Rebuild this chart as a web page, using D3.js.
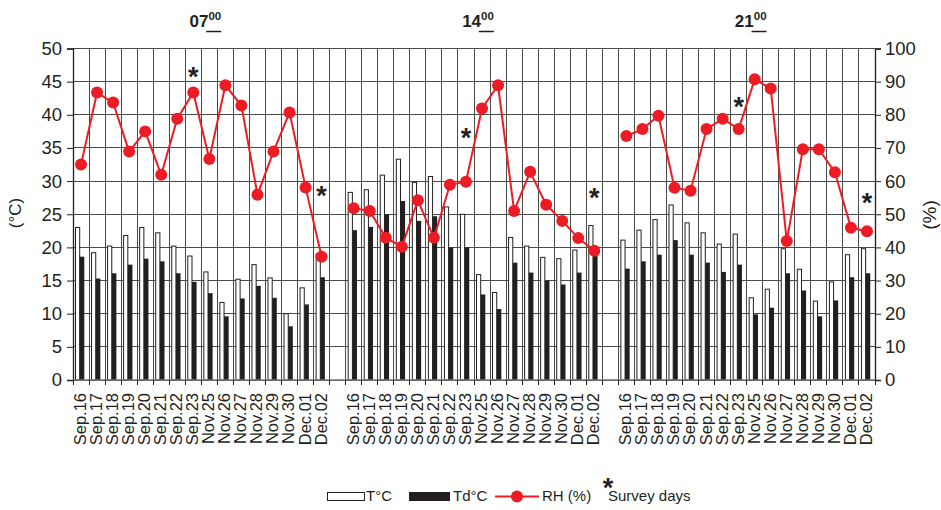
<html>
<head>
  <title>T, Td and RH at 07, 14 and 21 h</title>
  <script src="https://d3js.org/d3.v7.min.js"></script>
  <style>
    body { margin: 0; background: #fff; }
    text { font-family: "Liberation Sans", Arial, sans-serif; fill: #231f20; }
  </style>
</head>
<body>
  <script>
    var days = ["Sep.16", "Sep.17", "Sep.18", "Sep.19", "Sep.20", "Sep.21", "Sep.22", "Sep.23",
                "Nov.25", "Nov.26", "Nov.27", "Nov.28", "Nov.29", "Nov.30", "Dec.01", "Dec.02"];
    var hours = ["07", "14", "21"];

    // air temperature (°C)
    var t07 = [23.0, 19.2, 20.2, 21.8, 23.0, 22.2, 20.2, 18.7, 16.3, 11.7, 15.2, 17.4, 15.4, 10.0, 13.9, 19.0];
    var t14 = [28.3, 28.7, 30.9, 33.3, 29.8, 30.7, 26.1, 25.0, 15.9, 13.2, 21.5, 20.2, 18.5, 18.3, 19.6, 23.3];
    var t21 = [21.1, 22.6, 24.2, 26.4, 23.7, 22.2, 20.5, 22.0, 12.4, 13.7, 19.8, 16.7, 11.9, 14.8, 18.9, 19.8];
    // dew point (°C)
    var td07 = [18.6, 15.3, 16.1, 17.4, 18.3, 17.9, 16.1, 14.8, 13.1, 9.6, 12.3, 14.2, 12.4, 8.1, 11.4, 15.5];
    var td14 = [22.6, 23.1, 25.0, 27.0, 24.0, 24.7, 20.0, 20.0, 12.9, 10.7, 17.7, 16.2, 15.0, 14.4, 16.2, 19.6];
    var td21 = [16.8, 17.9, 18.9, 21.1, 18.9, 17.7, 16.3, 17.4, 9.9, 10.9, 16.1, 13.5, 9.6, 12.0, 15.5, 16.1];
    // relative humidity (%)
    var rh07 = [65.0, 86.7, 83.7, 68.9, 75.0, 61.9, 78.8, 86.7, 66.7, 88.9, 82.8, 55.9, 68.9, 80.7, 58.1, 37.2];
    var rh14 = [51.8, 51.0, 42.9, 40.2, 54.2, 42.9, 58.9, 59.8, 81.9, 88.9, 51.0, 62.8, 52.9, 48.0, 42.8, 39.0];
    var rh21 = [73.6, 75.7, 79.7, 58.0, 57.1, 75.7, 78.8, 75.7, 90.7, 87.9, 41.9, 69.6, 69.6, 62.7, 45.9, 44.9];

    // survey days, marked with an asterisk at a level of the RH axis
    var starHour = ["07", "07", "14", "14", "21", "21"];
    var starDay = ["Sep.23", "Dec.02", "Sep.23", "Dec.02", "Sep.23", "Dec.02"];
    var starLevel = [93, 57, 74.5, 56.5, 84, 55];

    var tempTicks = d3.range(0, 51, 5);
    var rhTicks = d3.range(0, 101, 10);

    var series = [
      {hour: "07", t: t07, td: td07, rh: rh07},
      {hour: "14", t: t14, td: td14, rh: rh14},
      {hour: "21", t: t21, td: td21, rh: rh21}
    ];

    var w = 941, h = 510;
    var pLeft = 73, pRight = 875, pTop = 48.5, pBottom = 380;
    var red = "#ed1c24", dark = "#231f20";

    // 16 days per hour plus one empty slot between hours
    var nSlot = hours.length * (days.length + 1) - 1;
    var slot = function(hi, di) { return hi * (days.length + 1) + di; };

    var x = d3.scaleBand().domain(d3.range(nSlot)).range([pLeft, pRight]).padding(0);
    var bw = x.bandwidth();
    var yT = d3.scaleLinear().domain([0, 50]).range([pBottom, pTop]);
    var yR = d3.scaleLinear().domain([0, 100]).range([pBottom, pTop]);

    var svg = d3.select("body").append("svg").attr("width", w).attr("height", h);

    // grid
    var grid = svg.append("g").attr("stroke", "#4a4a4a").attr("stroke-width", 1).attr("shape-rendering", "crispEdges");
    grid.selectAll("line.h").data(tempTicks).enter().append("line").attr("class", "h")
      .attr("x1", pLeft).attr("x2", pRight)
      .attr("y1", function(d) { return yT(d); }).attr("y2", function(d) { return yT(d); });
    grid.selectAll("line.v").data(d3.range(nSlot + 1)).enter().append("line").attr("class", "v")
      .attr("x1", function(i) { return pLeft + i * bw; }).attr("x2", function(i) { return pLeft + i * bw; })
      .attr("y1", pTop).attr("y2", pBottom);

    // bars
    series.forEach(function(s, hi) {
      var g = svg.append("g");
      g.selectAll("rect.t").data(s.t).enter().append("rect").attr("class", "t")
        .attr("x", function(d, i) { return x(slot(hi, i)) + 2.5; })
        .attr("y", function(d) { return yT(d); })
        .attr("width", 4.2)
        .attr("height", function(d) { return pBottom - yT(d); })
        .attr("fill", "#fff").attr("stroke", dark).attr("stroke-width", 1);
      g.selectAll("rect.td").data(s.td).enter().append("rect").attr("class", "td")
        .attr("x", function(d, i) { return x(slot(hi, i)) + 6.7; })
        .attr("y", function(d) { return yT(d); })
        .attr("width", 4.6)
        .attr("height", function(d) { return pBottom - yT(d); })
        .attr("fill", dark);
    });

    // RH lines and points
    series.forEach(function(s, hi) {
      var cx = function(d, i) { return x(slot(hi, i)) + bw / 2; };
      var line = d3.line().x(cx).y(function(d) { return yR(d); });
      svg.append("path").datum(s.rh).attr("d", line)
        .attr("fill", "none").attr("stroke", red).attr("stroke-width", 2);
      svg.append("g").selectAll("circle").data(s.rh).enter().append("circle")
        .attr("cx", cx).attr("cy", function(d) { return yR(d); })
        .attr("r", 6).attr("fill", red);
    });

    // asterisks for survey days
    svg.append("g").selectAll("text").data(starLevel).enter().append("text")
      .attr("x", function(d, i) { return x(slot(hours.indexOf(starHour[i]), days.indexOf(starDay[i]))) + bw / 2; })
      .attr("y", function(d) { return yR(d) + 14; })
      .attr("text-anchor", "middle").attr("font-size", 27).attr("font-weight", "bold")
      .text("*");

    // axes
    var axL = svg.append("g").attr("transform", "translate(" + pLeft + ",0)")
      .call(d3.axisLeft(yT).tickValues(tempTicks).tickSize(6).tickPadding(5));
    var axR = svg.append("g").attr("transform", "translate(" + pRight + ",0)")
      .call(d3.axisRight(yR).tickValues(rhTicks).tickSize(6).tickPadding(4));
    [axL, axR].forEach(function(a) {
      a.select(".domain").attr("stroke", dark).attr("stroke-width", 1.3);
      a.selectAll(".tick line").attr("stroke", dark);
      a.selectAll("text").attr("font-size", 18.5).attr("fill", dark)
        .attr("font-family", "'Liberation Sans', Arial, sans-serif");
    });

    // bottom axis: ticks at slot edges, labels at slot centres
    svg.append("line").attr("x1", pLeft).attr("x2", pRight).attr("y1", pBottom).attr("y2", pBottom)
      .attr("stroke", "#777").attr("stroke-width", 1.3);
    svg.append("g").selectAll("line").data(d3.range(nSlot + 1)).enter().append("line")
      .attr("x1", function(i) { return pLeft + i * bw; }).attr("x2", function(i) { return pLeft + i * bw; })
      .attr("y1", pBottom).attr("y2", pBottom + 5)
      .attr("stroke", dark).attr("shape-rendering", "crispEdges");

    var labs = [];
    hours.forEach(function(hr, hi) { days.forEach(function(d, di) { labs.push({s: slot(hi, di), t: d}); }); });
    svg.append("g").selectAll("text").data(labs).enter().append("text")
      .attr("transform", function(d) { return "translate(" + (x(d.s) + bw / 2 - 1) + "," + (pBottom + 13) + ") rotate(-90)"; })
      .attr("text-anchor", "end").attr("dy", "0.36em").attr("font-size", 16.5)
      .text(function(d) { return d.t; });

    // hour titles
    hours.forEach(function(hr, hi) {
      var cx = x(slot(hi, 8)) + 4;
      var tt = svg.append("text").attr("x", cx).attr("y", 27).attr("text-anchor", "middle")
        .attr("font-weight", "bold").attr("font-size", 17);
      tt.append("tspan").text(hr);
      tt.append("tspan").attr("font-size", 11.5).attr("dy", -7).text("00");
      var bb = tt.node().getBBox();
      svg.append("line").attr("x1", bb.x + bb.width - 15).attr("x2", bb.x + bb.width)
        .attr("y1", 31.5).attr("y2", 31.5).attr("stroke", dark).attr("stroke-width", 1.5);
    });

    // axis titles
    svg.append("text").attr("transform", "translate(21,213) rotate(-90)")
      .attr("text-anchor", "middle").attr("font-size", 17).text("(°C)");
    svg.append("text").attr("transform", "translate(936,215) rotate(-90)")
      .attr("text-anchor", "middle").attr("font-size", 19).text("(%)");

    // legend
    var lg = svg.append("g").attr("font-size", 15);
    lg.append("rect").attr("x", 327.5).attr("y", 492.5).attr("width", 37).attr("height", 8)
      .attr("fill", "#fff").attr("stroke", dark).attr("stroke-width", 1);
    lg.append("text").attr("x", 366).attr("y", 501).text("T°C");
    lg.append("rect").attr("x", 409).attr("y", 492).attr("width", 41).attr("height", 9).attr("fill", dark);
    lg.append("text").attr("x", 453).attr("y", 501).text("Td°C");
    lg.append("line").attr("x1", 495).attr("x2", 539).attr("y1", 496.5).attr("y2", 496.5)
      .attr("stroke", red).attr("stroke-width", 2);
    lg.append("circle").attr("cx", 517).attr("cy", 496.5).attr("r", 6).attr("fill", red);
    lg.append("text").attr("x", 542).attr("y", 501).text("RH (%)");
    lg.append("text").attr("x", 608).attr("y", 497).attr("text-anchor", "middle")
      .attr("font-size", 27).attr("font-weight", "bold").text("*");
    lg.append("text").attr("x", 608).attr("y", 501).text("Survey days");
  </script>
</body>
</html>
